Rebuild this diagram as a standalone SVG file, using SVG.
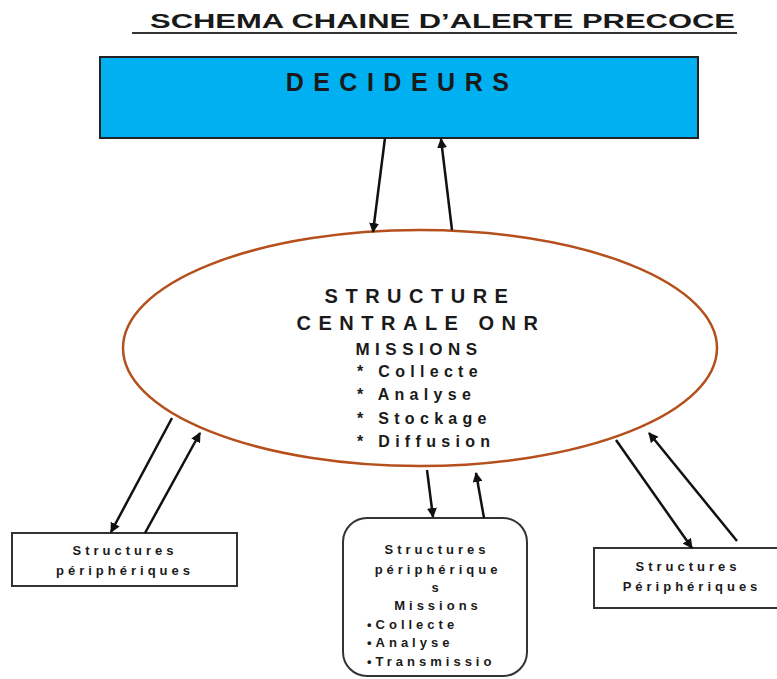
<svg xmlns="http://www.w3.org/2000/svg" width="777" height="679" viewBox="0 0 777 679">
<style>
.t{font-family:"Liberation Sans",Arial,sans-serif;font-weight:bold;fill:#1a1a1a}
.c{text-anchor:middle}
.s{font-size:13px;letter-spacing:4px}
.box{fill:#fff;stroke:#333;stroke-width:2}
.ln{stroke:#111;stroke-width:2.5;fill:none}
</style>
<defs>
<marker id="ah" viewBox="0 0 10 10" refX="9" refY="5" markerWidth="4" markerHeight="4" orient="auto" markerUnits="strokeWidth">
<path d="M0,0 L10,5 L0,10 z" fill="#111"/>
</marker>
</defs>
<rect width="777" height="679" fill="#fff"/>
<g id="title">
<text class="t" x="150" y="28" font-size="21" textLength="585" lengthAdjust="spacingAndGlyphs">SCHEMA CHAINE D’ALERTE PRECOCE</text>
<line x1="132" y1="33" x2="737" y2="33" stroke="#333" stroke-width="2"/>
</g>
<g id="decideurs">
<rect x="100" y="57" width="598" height="81" fill="#00b0f0" stroke="#222" stroke-width="2"/>
<text class="t c" x="402" y="91" font-size="25" letter-spacing="9.5">DECIDEURS</text>
</g>
<g id="structure-centrale">
<ellipse cx="420" cy="348" rx="297" ry="118" fill="#fff" stroke="#b5501c" stroke-width="2.5"/>
<text class="t c" x="420" y="303" font-size="20" letter-spacing="7.5">STRUCTURE</text>
<text class="t c" x="421" y="330" font-size="20" letter-spacing="7.5">CENTRALE ONR</text>
<text class="t c" x="419" y="355" font-size="17" letter-spacing="5.5">MISSIONS</text>
<text class="t" x="357" y="377" font-size="16" letter-spacing="5.3">*  Collecte</text>
<text class="t" x="357" y="400" font-size="16" letter-spacing="5.3">*  Analyse</text>
<text class="t" x="357" y="424" font-size="16" letter-spacing="5.3">*  Stockage</text>
<text class="t" x="357" y="447" font-size="16" letter-spacing="5.3">*  Diffusion</text>
</g>
<g id="peripheriques-gauche">
<rect class="box" x="12" y="533" width="225" height="53"/>
<text class="t c s" x="125" y="555">Structures</text>
<text class="t c s" x="125" y="575">périphériques</text>
</g>
<g id="peripheriques-centre">
<rect class="box" x="343" y="518" width="184" height="158" rx="24"/>
<text class="t c s" x="437" y="554">Structures</text>
<text class="t c s" x="438" y="574">périphérique</text>
<text class="t c s" x="437" y="592">s</text>
<text class="t c s" x="438" y="610">Missions</text>
<text class="t s" x="367" y="629">•Collecte</text>
<text class="t s" x="367" y="647">•Analyse</text>
<text class="t s" x="367" y="666">•Transmissio</text>
</g>
<g id="peripheriques-droite">
<rect class="box" x="594" y="548" width="190" height="60"/>
<text class="t c s" x="688" y="571">Structures</text>
<text class="t c s" x="692" y="591">Périphériques</text>
</g>
<g id="connectors">
<line class="ln" x1="385" y1="138" x2="373" y2="232" marker-end="url(#ah)"/>
<line class="ln" x1="452" y1="230" x2="441" y2="139" marker-end="url(#ah)"/>
<line class="ln" x1="172" y1="418" x2="111" y2="532" marker-end="url(#ah)"/>
<line class="ln" x1="145" y1="533" x2="200" y2="433" marker-end="url(#ah)"/>
<line class="ln" x1="427" y1="470" x2="433" y2="517" marker-end="url(#ah)"/>
<line class="ln" x1="484" y1="518" x2="476" y2="473" marker-end="url(#ah)"/>
<line class="ln" x1="616" y1="440" x2="692" y2="548" marker-end="url(#ah)"/>
<line class="ln" x1="737" y1="541" x2="649" y2="433" marker-end="url(#ah)"/>
</g>
</svg>
